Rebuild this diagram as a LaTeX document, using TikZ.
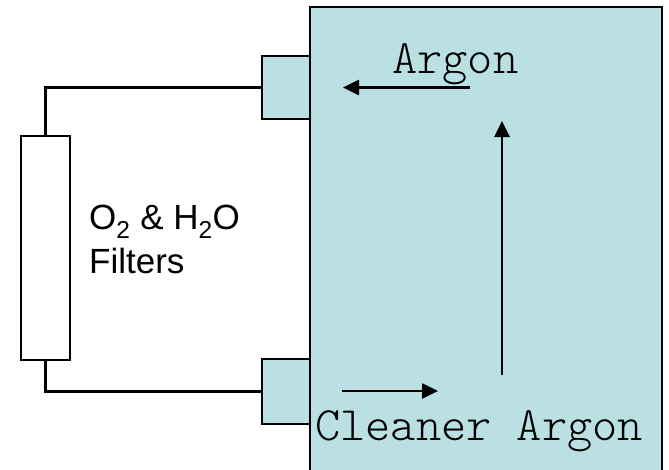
\documentclass[tikz,border=0pt]{standalone}
\usepackage{fontspec}
\setmainfont{Liberation Sans}
\newfontfamily\argfont{Latin Modern Mono Light}
\usetikzlibrary{arrows.meta}
\definecolor{tank}{RGB}{186,224,227}
\begin{document}
\begin{tikzpicture}[x=1pt,y=-1pt,
  outl/.style={draw=black,line width=2.6pt,inner sep=0pt,outer sep=0pt,anchor=north west},
  pipe/.style={draw=black,line width=2.6pt},
  flow/.style={draw=black,line width=2.6pt,-{Triangle[length=16pt,width=15pt]}},
  lab/.style={inner sep=0pt,anchor=base west,font=\argfont\fontsize{48}{54}\selectfont}]
\useasboundingbox (0,0) rectangle (669,469);
\clip (0,0) rectangle (669,469);
% main chamber
\node[outl,fill=tank,minimum width=352pt,minimum height=490pt] (tank) at (310,7) {};
% ports
\node[outl,fill=tank,minimum width=48pt,minimum height=63pt] (top) at (262,56) {};
\node[outl,fill=tank,minimum width=48pt,minimum height=65pt] (bot) at (262,359) {};
\draw[line width=2.6pt] (310,56) -- (310,424);
% filter
\node[outl,fill=white,minimum width=49pt,minimum height=224pt] (filt) at (21,136) {};
\draw[pipe] (top.west) -| (filt.north);
\draw[pipe] (filt.south) |- (bot.west);
% texts
\node[inner sep=0pt,anchor=north west,align=left,font=\fontsize{35}{44}\selectfont] (ftxt) at (89,205) {O\textsubscript{2} \& H\textsubscript{2}O\\Filters};
\node[lab] (ar) at (392,73) {Argon};
\node[lab] (car) at (315,440) {Cleaner Argon};
% arrows
\coordinate (a1s) at (470,87.5);
\coordinate (a1e) at (343,87.5);
\coordinate (a2s) at (502,375);
\coordinate (a2e) at (502,121);
\coordinate (a3s) at (342,391);
\coordinate (a3e) at (438,391);
\draw[flow] (a1s) -- (a1e);
\draw[flow] (a2s) -- (a2e);
\draw[flow] (a3s) -- (a3e);
\end{tikzpicture}
\end{document}
